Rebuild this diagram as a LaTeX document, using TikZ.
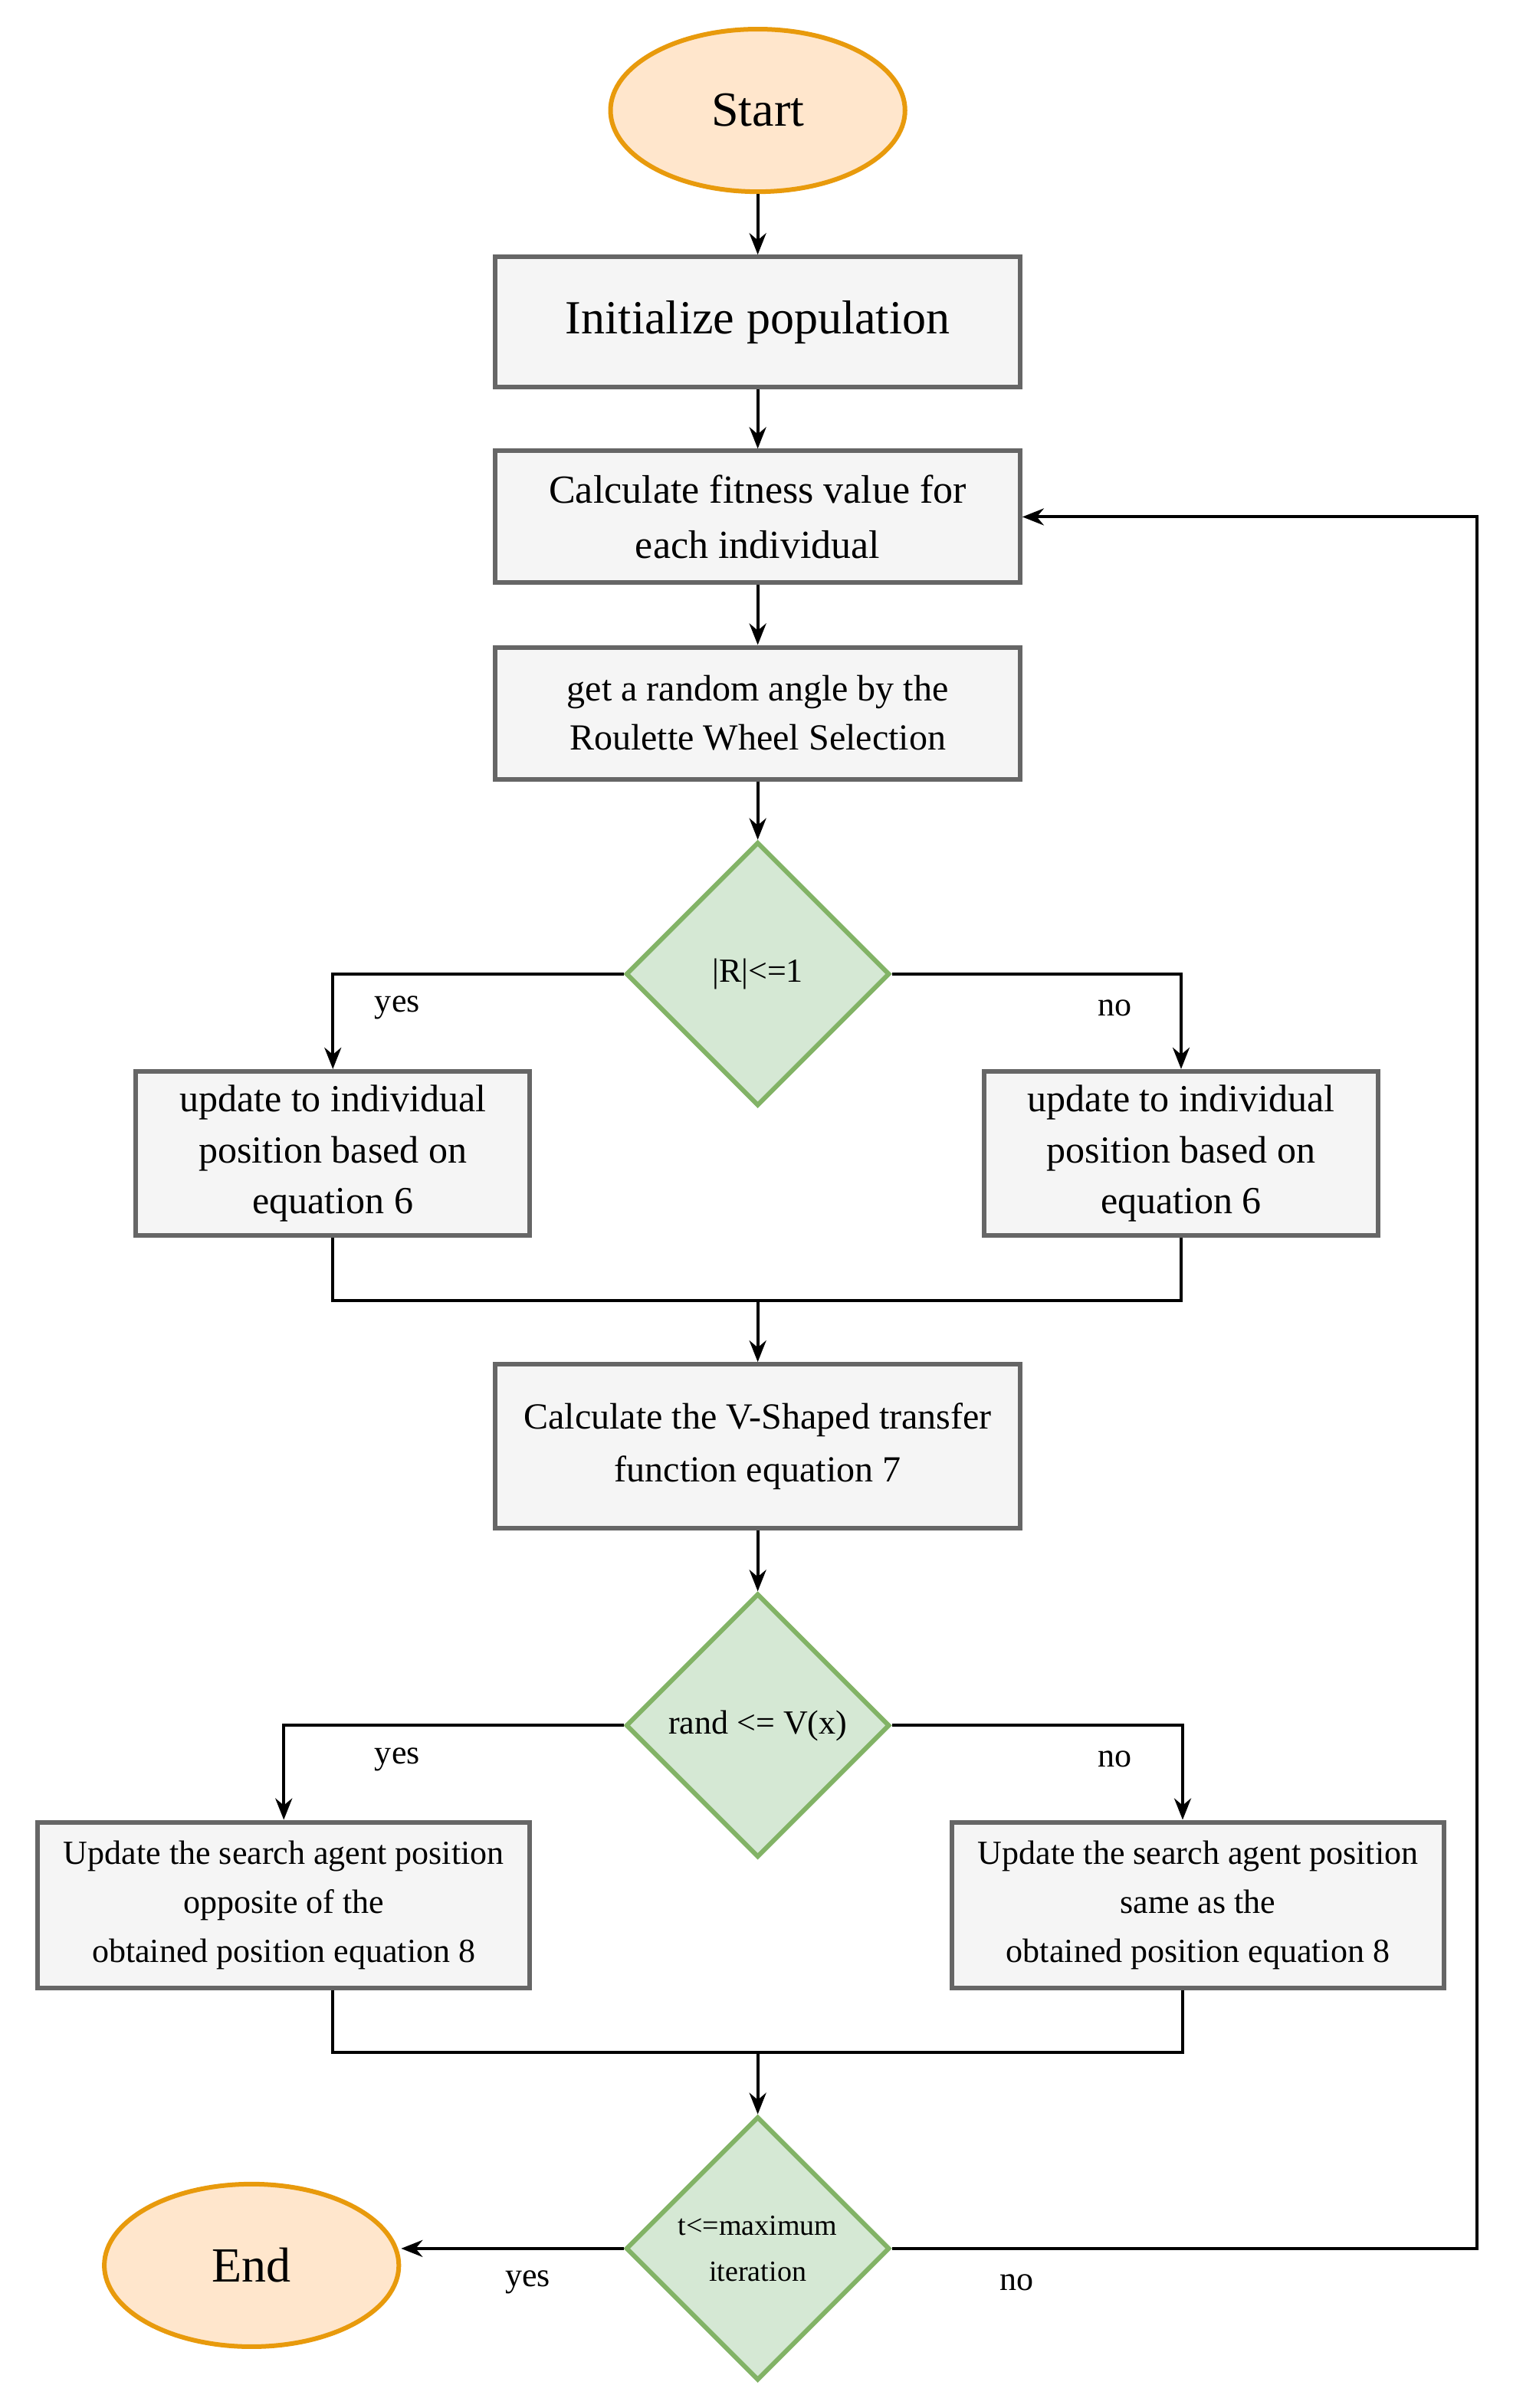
\documentclass[tikz,border=0pt]{standalone}
\usepackage{fontspec}
\setmainfont{Liberation Serif}
\usetikzlibrary{shapes.geometric,arrows.meta}
\definecolor{dfill}{HTML}{D5E8D4}
\definecolor{dline}{HTML}{82B366}
\definecolor{ofill}{HTML}{FFE6CC}
\definecolor{oline}{HTML}{E89A0C}
\begin{document}
\begin{tikzpicture}[x=1pt,y=-1pt,
 box/.style={draw=black!60,fill=black!4,line width=3pt,minimum width=342pt,align=center,inner sep=0pt},
 dia/.style={diamond,draw=dline,fill=dfill,line width=3pt,minimum width=172pt,minimum height=172pt,aspect=1,inner sep=0pt,align=center,font=\fontsize{22}{26}\selectfont},
 term/.style={ellipse,draw=oline,fill=ofill,line width=3pt,minimum width=192pt,minimum height=106pt,font=\fontsize{32}{38}\selectfont},
 arr/.style={-{Stealth[length=14pt,width=11pt]},line width=2pt},
 ln/.style={line width=2pt},
 lab/.style={font=\fontsize{22}{26}\selectfont}]
\useasboundingbox (0,0) rectangle (986,1570);
\node[term] (start) at (494,72) {Start};
\node[box,minimum height=85pt,font=\fontsize{31}{36}\selectfont] (init) at (494,210) {Initialize population};
\node[box,minimum height=86pt,font=\fontsize{26}{36}\selectfont] (fit) at (494,337) {Calculate fitness value for\\each individual};
\node[box,minimum height=86pt,font=\fontsize{24}{32}\selectfont] (rw) at (494,465) {get a random angle by the\\Roulette Wheel Selection};
\node[dia] (d1) at (494,635) {|R|<=1};
\node[box,minimum width=257pt,minimum height=107pt,font=\fontsize{25}{33}\selectfont] (l1) at (217,752) {update to individual\\position based on\\equation 6};
\node[box,minimum width=257pt,minimum height=107pt,font=\fontsize{25}{33}\selectfont] (r1) at (770,752) {update to individual\\position based on\\equation 6};
\node[box,minimum height=107pt,font=\fontsize{24}{34}\selectfont] (vs) at (494,943) {Calculate the V-Shaped transfer\\function equation 7};
\node[dia] (d2) at (494,1125) {rand <= V(x)};
\node[box,minimum width=321pt,minimum height=108pt,font=\fontsize{22}{32}\selectfont] (l2) at (185,1242) {Update the search agent position\\opposite of the\\obtained position equation 8};
\node[box,minimum width=321pt,minimum height=108pt,font=\fontsize{22}{32}\selectfont] (r2) at (781,1242) {Update the search agent position\\same as the\\obtained position equation 8};
\node[dia,font=\fontsize{19}{30}\selectfont] (d3) at (494,1466) {t<=maximum\\iteration};
\node[term] (end) at (164,1477) {End};
\coordinate (m1) at (494,848);
\coordinate (m2) at (494,1338);
\coordinate (l2b) at (217,1338);
\coordinate (r2b) at (771,1338);
\coordinate (r2t) at (771,1125);
\draw[arr] (start) -- (init);
\draw[arr] (init) -- (fit);
\draw[arr] (fit) -- (rw);
\draw[arr] (rw) -- (d1);
\draw[arr] (d1.west) -| (l1.north);
\draw[arr] (d1.east) -| (r1.north);
\draw[ln] (l1.south) |- (m1) -| (r1.south);
\draw[arr] (m1) -- (vs);
\draw[arr] (vs) -- (d2);
\draw[arr] (d2.west) -| (l2.north);
\draw[arr] (d2.east) -- (r2t) -- (r2t |- r2.north);
\draw[ln] (l2b |- l2.south) -- (l2b) -- (r2b) -- (r2b |- r2.south);
\draw[arr] (m2) -- (d3);
\draw[arr] (d3.west) -- (end.east |- d3.west);
\draw[arr] (d3.east) -- (963,1466) |- (fit.east);
\node[lab] at (259,657) {yes};
\node[lab] at (727,657) {no};
\node[lab] at (259,1147) {yes};
\node[lab] at (727,1147) {no};
\node[lab] at (344,1488) {yes};
\node[lab] at (663,1488) {no};
\end{tikzpicture}
\end{document}
